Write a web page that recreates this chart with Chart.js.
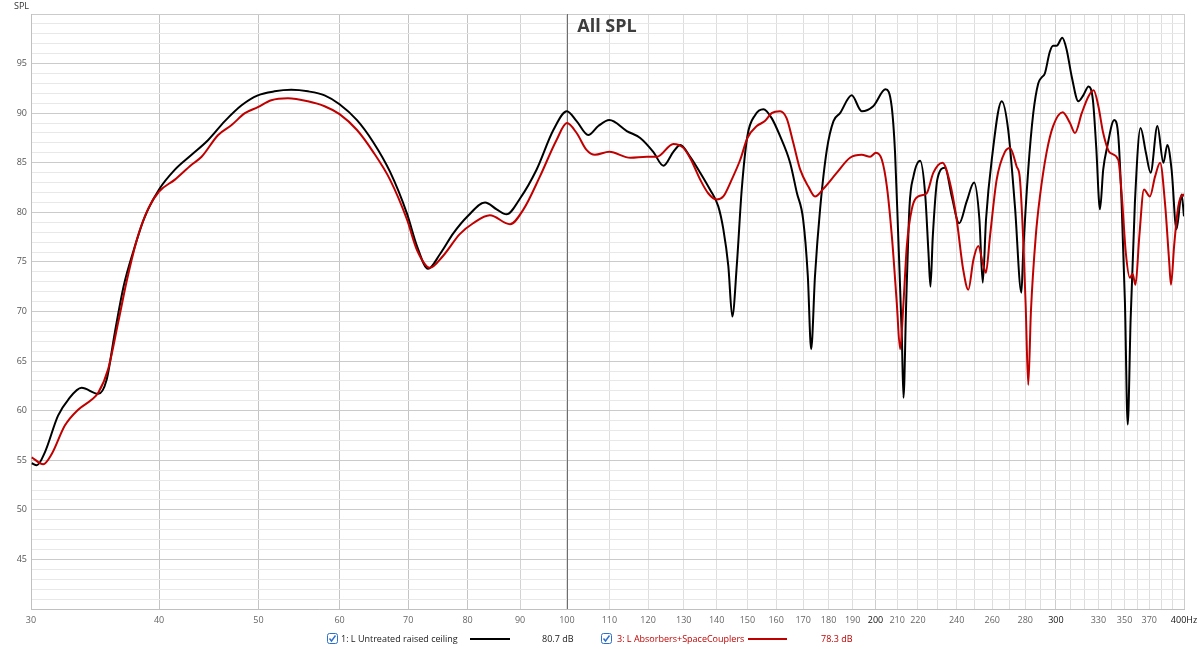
<!DOCTYPE html>
<html>
<head>
<meta charset="utf-8">
<title>All SPL</title>
<script src="https://cdn.jsdelivr.net/npm/chart.js@4.4.0/dist/chart.umd.min.js"></script>
<style>
  html, body { margin: 0; padding: 0; background: #fff; }
  #wrap { width: 1200px; height: 649px; position: relative; }
</style>
</head>
<body>
<div id="wrap"><canvas id="spl-chart"></canvas></div>
<script>
// trace 1: L Untreated raised ceiling (Hz / dB)
const freqUntreated = [30.05, 30.4, 30.95, 31.88, 32.61, 33.61, 34.89, 35.55, 36.22, 36.95, 37.79, 38.65, 40.0,
  41.45, 43.03, 44.67, 46.37, 48.15, 49.94, 51.85, 53.84, 55.88, 58.02, 60.0, 62.4, 64.7, 67.2, 69.8, 71.4,
  73.2, 75.2, 77.5, 80.0, 83.2, 85.4, 87.3, 90.0, 93.4, 97.0, 100.0, 102.2, 104.9, 107.3, 110.0, 114.4, 117.9,
  121.4, 124.2, 127.0, 129.0, 131.9, 134.9, 137.9, 140.5, 142.1, 143.7, 145.0, 146.5, 148.1, 150.0, 152.6,
  155.5, 158.4, 161.4, 165.1, 167.6, 170.0, 171.8, 173.1, 174.6, 176.6, 179.3, 182.0, 184.7, 189.6, 193.9,
  199.0, 204.6, 207.4, 209.0, 210.5, 212.2, 213.0, 214.3, 215.9, 217.8, 221.1, 223.6, 225.3, 226.3, 227.5,
  229.8, 233.8, 237.4, 241.4, 245.5, 249.6, 252.6, 254.5, 256.4, 259.7, 265.6, 269.5, 273.6, 277.6, 278.7,
  281.9, 285.1, 288.3, 290.5, 292.6, 295.9, 298.1, 300.5, 304.3, 307.3, 310.8, 315.5, 319.0, 322.8, 326.0,
  328.4, 331.2, 333.6, 336.6, 342.0, 345.1, 347.7, 350.3, 352.5, 354.8, 358.2, 362.8, 367.2, 371.1, 376.8,
  381.9, 385.3, 389.0, 393.3, 397.8, 400.0];
const splUntreated = [54.7, 54.5, 55.8, 59.5, 61.1, 62.3, 61.7, 63.1, 67.9, 72.6, 76.2, 79.3, 82.3,
  84.3, 85.8, 87.3, 89.2, 90.8, 91.8, 92.2, 92.35, 92.2, 91.8, 90.9, 89.3, 87.1, 84.1, 79.9, 76.6,
  74.3, 75.8, 77.9, 79.6, 81.0, 80.3, 79.8, 81.4, 84.3, 88.3, 90.2, 89.2, 87.8, 88.7, 89.3, 88.2, 87.5,
  86.1, 84.7, 86.1, 86.8, 85.6, 84.0, 82.3, 80.6, 78.3, 74.6, 69.5, 74.8, 82.3, 87.7, 89.8,
  90.4, 89.5, 87.7, 85.0, 82.0, 79.3, 73.6, 66.2, 73.6, 80.3, 86.3, 89.2, 90.0, 91.8, 90.2,
  90.7, 92.4, 90.7, 86.0, 77.6, 67.5, 61.3, 70.9, 80.6, 83.6, 85.2, 81.9, 75.9, 72.5, 77.6,
  83.3, 84.5, 81.6, 78.9, 81.1, 83.0, 79.3, 72.9, 79.3, 85.3, 91.2, 88.3, 80.6, 71.9, 75.9,
  84.3, 90.0, 93.0, 93.6, 94.0, 96.2, 96.8, 96.8, 97.6, 96.4, 93.7, 91.2, 91.8, 92.7, 91.3,
  86.6, 80.3, 84.3, 86.6, 89.3, 87.7, 80.9, 70.9, 58.6, 69.2, 80.9, 88.5, 86.0, 84.0, 88.7,
  85.0, 86.8, 84.3, 78.3, 81.8, 79.6];

// trace 3: L Absorbers+SpaceCouplers (Hz / dB)
const freqTreated = [30.05, 30.84, 31.42, 32.37, 33.35, 34.37, 34.89, 35.68, 36.49, 37.22, 38.07, 39.05, 40.0,
  41.45, 43.03, 44.01, 45.68, 47.08, 48.51, 49.94, 51.47, 53.43, 55.88, 58.02, 60.0, 62.4, 64.7, 67.2, 69.8,
  71.4, 73.5, 75.7, 78.6, 81.0, 84.1, 88.0, 90.7, 94.1, 97.7, 100.0, 102.2, 104.5, 106.5, 110.0, 115.3,
  119.7, 122.4, 127.0, 129.9, 132.0, 134.9, 137.4, 140.0, 142.1, 144.8, 147.6, 150.0, 153.2, 156.0, 158.4,
  161.4, 163.8, 166.3, 168.9, 172.0, 174.6, 178.0, 183.4, 188.9, 193.9, 197.6, 200.2, 202.9, 205.2, 207.5,
  209.8, 211.4, 213.0, 214.6, 217.0, 220.2, 224.3, 227.8, 232.5, 236.4, 240.0, 243.6, 246.4, 249.2, 252.0,
  254.5, 256.3, 258.7, 262.6, 267.5, 270.6, 274.7, 276.6, 278.8, 280.3, 281.9, 283.6, 286.7, 289.4, 293.7,
  298.1, 304.6, 309.6, 313.1, 317.9, 322.8, 326.5, 330.0, 333.6, 338.7, 345.1, 347.7, 351.0, 354.2, 356.3,
  358.7, 361.8, 365.6, 370.5, 374.8, 379.1, 383.3, 386.8, 388.5, 391.2, 394.9, 399.3, 400.0];
const splTreated = [55.3, 54.6, 55.6, 58.5, 60.1, 61.1, 61.8, 64.2, 68.9, 73.2, 77.3, 80.4, 82.1,
  83.3, 84.8, 85.6, 87.8, 88.8, 90.0, 90.6, 91.3, 91.5, 91.2, 90.7, 89.9, 88.3, 86.1, 83.3, 79.3,
  76.2, 74.4, 75.6, 77.8, 78.9, 79.7, 78.8, 80.3, 83.6, 87.3, 89.0, 88.0, 86.3, 85.8, 86.1, 85.5,
  85.6, 85.6, 86.9, 86.5, 85.4, 83.3, 81.9, 81.3, 81.6, 83.3, 85.3, 87.5, 88.7, 89.2, 90.0,
  90.2, 89.5, 87.0, 84.3, 82.6, 81.6, 82.4, 84.0, 85.5, 85.8, 85.6, 86.0, 85.3, 82.6, 77.6,
  70.9, 66.2, 70.9, 76.6, 80.3, 81.6, 81.9, 84.0, 85.0, 83.0, 79.3, 74.2, 72.2, 75.2, 76.6,
  74.9, 73.9, 77.6, 83.3, 86.1, 86.5, 84.6, 83.5, 77.0, 70.5, 62.6, 70.0, 77.6, 81.6, 86.0,
  88.7, 90.1, 89.0, 88.0, 90.0, 91.7, 92.3, 90.7, 88.0, 86.0, 85.3, 81.9, 75.9, 73.4, 73.8,
  72.7, 77.6, 82.3, 81.6, 83.6, 85.0, 80.9, 75.2, 72.7, 76.6, 80.6, 81.8, 81.6];

const freqLabels = [30, 40, 50, 60, 70, 80, 90, 100, 110, 120, 130, 140, 150, 160, 170, 180, 190,
  200, 210, 220, 240, 260, 280, 300, 330, 350, 370, 400];
const freqStrong = [200, 300, 400];
const splLabels = [45, 50, 55, 60, 65, 70, 75, 80, 85, 90, 95];
const cursorFreq = 100;

const traceNames = ['1: L Untreated raised ceiling', '3: L Absorbers+SpaceCouplers'];
const traceLevels = ['80.7 dB', '78.3 dB'];
const traceColors = ['#000000', '#c00000'];

const FONT = '"Open Sans", "Noto Sans", sans-serif';

function toPoints(xs, ys) {
  return xs.map((x, i) => ({ x: x, y: ys[i] }));
}

// grid lines every 10 Hz / every dB
const gridFreqs = [];
for (let f = 30; f <= 400; f += 10) gridFreqs.push(f);
const gridSpl = [];
for (let v = 40; v <= 100; v++) gridSpl.push(v);

function xGridColor(ctx) {
  const v = ctx.tick ? ctx.tick.value : 0;
  if (v >= 40 && v <= 80) return '#c4c4c4';
  if (v === 200 || v === 300 || v === 30 || v === 400) return '#cdcdcd';
  if (v === 90) return '#d2d2d2';
  return '#dedede';
}

function drawCheckbox(ctx, x, y) {
  ctx.save();
  ctx.fillStyle = '#ffffff';
  ctx.strokeStyle = '#2c6fd1';
  ctx.lineWidth = 1;
  ctx.beginPath();
  ctx.roundRect(x + 0.5, y + 0.5, 10, 10, 2);
  ctx.fill();
  ctx.stroke();
  ctx.lineWidth = 1.4;
  ctx.beginPath();
  ctx.moveTo(x + 2.5, y + 5.5);
  ctx.lineTo(x + 4.5, y + 8);
  ctx.lineTo(x + 8.5, y + 2.5);
  ctx.stroke();
  ctx.restore();
}

// cursor line at 100 Hz, drawn over the grid but under the traces
const cursorPlugin = {
  id: 'cursor',
  beforeDatasetsDraw(chart) {
    const area = chart.chartArea;
    const px = Math.round(chart.scales.x.getPixelForValue(cursorFreq)) + 0.5;
    const ctx = chart.ctx;
    ctx.save();
    ctx.strokeStyle = '#6e6e6e';
    ctx.lineWidth = 1;
    ctx.beginPath();
    ctx.moveTo(px, area.top);
    ctx.lineTo(px, area.bottom);
    ctx.stroke();
    ctx.restore();
  }
};

const overlayPlugin = {
  id: 'overlay',
  afterDraw(chart) {
    const ctx = chart.ctx;
    ctx.save();
    // title
    ctx.fillStyle = '#3d3d3d';
    ctx.font = 'bold 18px ' + FONT;
    ctx.textAlign = 'center';
    ctx.textBaseline = 'middle';
    ctx.fillText('All SPL', 607, 27);
    // axis name
    ctx.fillStyle = '#333';
    ctx.font = '9px ' + FONT;
    ctx.textAlign = 'left';
    ctx.fillText('SPL', 14, 6);

    // legend row
    const ly = 639;
    const entries = [
      { box: 327, text: 341, l0: 470, l1: 510, val: 542 },
      { box: 601, text: 617, l0: 748, l1: 787, val: 821 }
    ];
    entries.forEach((e, i) => {
      drawCheckbox(ctx, e.box, ly - 6);
      ctx.fillStyle = i === 0 ? '#1a1a1a' : traceColors[i];
      ctx.font = '9px ' + FONT;
      ctx.textAlign = 'left';
      ctx.textBaseline = 'middle';
      ctx.fillText(traceNames[i], e.text, ly);
      ctx.fillText(traceLevels[i], e.val, ly);
      ctx.strokeStyle = traceColors[i];
      ctx.lineWidth = 2;
      ctx.beginPath();
      ctx.moveTo(e.l0, ly);
      ctx.lineTo(e.l1, ly);
      ctx.stroke();
    });
    ctx.restore();
  }
};

const ctx = document.getElementById('spl-chart');
const splChart = new Chart(ctx, {
  type: 'line',
  data: {
    datasets: [
      {
        label: traceNames[0],
        data: toPoints(freqUntreated, splUntreated),
        borderColor: traceColors[0],
        borderWidth: 2,
        pointRadius: 0,
        cubicInterpolationMode: 'monotone',
        order: 1
      },
      {
        label: traceNames[1],
        data: toPoints(freqTreated, splTreated),
        borderColor: traceColors[1],
        borderWidth: 2,
        pointRadius: 0,
        cubicInterpolationMode: 'monotone',
        order: 0
      }
    ]
  },
  options: {
    responsive: true,
    maintainAspectRatio: false,
    animation: false,
    devicePixelRatio: 1,
    layout: { padding: { top: 14, right: 16, left: 0, bottom: 0 } },
    plugins: {
      legend: { display: false },
      tooltip: { enabled: false },
      title: { display: false }
    },
    scales: {
      x: {
        type: 'logarithmic',
        min: 30,
        max: 400,
        afterBuildTicks: (scale) => { scale.ticks = gridFreqs.map(v => ({ value: v })); },
        afterFit: (scale) => {
          scale.height = 40;
          scale.paddingLeft = 0;
          scale.paddingRight = 0;
        },
        grid: { color: xGridColor, drawTicks: false, lineWidth: 1 },
        border: { color: '#c0c0c0' },
        ticks: {
          autoSkip: false,
          maxRotation: 0,
          padding: 6,
          font: { family: FONT, size: 9 },
          color: (c) => freqStrong.includes(c.tick.value) ? '#111' : '#666',
          callback: (v) => {
            if (!freqLabels.includes(v)) return '';
            return v === 400 ? '400Hz' : String(v);
          }
        }
      },
      y: {
        type: 'linear',
        min: 40,
        max: 100,
        afterBuildTicks: (scale) => { scale.ticks = gridSpl.map(v => ({ value: v })); },
        afterFit: (scale) => {
          scale.width = 31;
          scale.paddingTop = 0;
          scale.paddingBottom = 0;
        },
        grid: {
          color: (c) => (c.tick.value % 5 === 0 ? '#cbcbcb' : '#e8e8e8'),
          drawTicks: false,
          lineWidth: 1
        },
        border: { color: '#c0c0c0' },
        ticks: {
          autoSkip: false,
          padding: 4,
          font: { family: FONT, size: 9 },
          color: '#555',
          callback: (v) => (splLabels.includes(v) ? String(v) : '')
        }
      }
    }
  },
  plugins: [cursorPlugin, overlayPlugin]
});
</script>
</body>
</html>
